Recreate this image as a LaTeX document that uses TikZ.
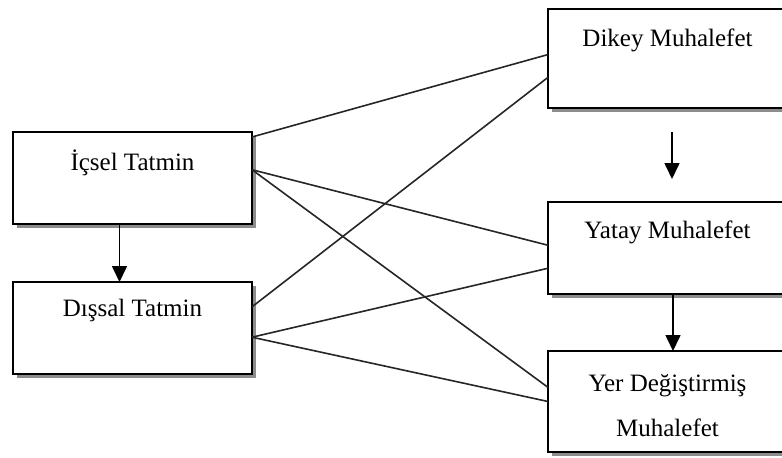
\documentclass[tikz,border=0pt]{standalone}
\usepackage{fontspec}
\setmainfont{Liberation Serif}
\usetikzlibrary{positioning,calc,shadows,arrows.meta}

\tikzset{
  box/.style={draw, line width=1pt, fill=white, minimum width=119.5pt,
    inner sep=0pt, outer sep=0pt,
    drop shadow={shadow xshift=2pt, shadow yshift=-2pt, fill=black!45, opacity=1}},
  lbl/.style={font=\fontsize{12.5}{22.5}\selectfont, align=center, inner sep=0pt},
  link/.style={line width=0.8pt, black!85},
  flow/.style={line width=0.8pt, -{Triangle[length=8pt, width=7.5pt]}},
}

\begin{document}
\begin{tikzpicture}[x=0.5pt, y=-0.5pt]
  \useasboundingbox (0,0) rectangle (782,457);

  % left column
  \node[box, minimum height=46pt] (ic) at (132.5,178) {};
  \node[box, minimum height=46pt, below=29pt of ic] (dis) {};
  \node[lbl] (icT) at ($(ic.north)+(0,31)$) {İçsel Tatmin};
  \node[lbl] (disT) at ($(dis.north)+(0,28)$) {Dışsal Tatmin};

  % right column
  \node[box, minimum height=49.5pt] (dikey) at (667.5,58.5) {};
  \node[box, minimum height=46pt] (yatay) at (667.5,248) {};
  \node[box, minimum height=50.5pt] (yer) at (667.5,401.5) {};
  \node[lbl] (dikeyT) at ($(dikey.north)+(0,31)$) {Dikey Muhalefet};
  \node[lbl] (yatayT) at ($(yatay.north)+(0,30)$) {Yatay Muhalefet};
  \node[lbl] (yerT) at ($(yer.north)+(0,54.5)$) {Yer Değiştirmiş\\Muhalefet};

  % arrows
  \draw[flow] ($(ic.south)+(-13,0)$) -- ($(dis.north)+(-13,0)$);
  \coordinate (dA) at ($(dikey.south)+(4.5,24)$);
  \coordinate (dB) at ($(dikey.south)+(4.5,71)$);
  \draw[flow] (dA) -- (dB);
  \draw[flow] ($(yatay.south)+(5.5,0)$) -- ($(yer.north)+(5.5,0)$);

  % links
  \draw[link] ($(ic.north east)!0.054!(ic.south east)$) -- ($(dikey.north west)!0.46!(dikey.south west)$);
  \draw[link] ($(ic.north east)!0.41!(ic.south east)$) -- ($(yatay.north west)!0.47!(yatay.south west)$);
  \draw[link] ($(ic.north east)!0.41!(ic.south east)$) -- ($(yer.north west)!0.36!(yer.south west)$);
  \draw[link] ($(dis.north east)!0.27!(dis.south east)$) -- ($(dikey.north west)!0.69!(dikey.south west)$);
  \draw[link] ($(dis.north east)!0.6!(dis.south east)$) -- ($(yatay.north west)!0.72!(yatay.south west)$);
  \draw[link] ($(dis.north east)!0.6!(dis.south east)$) -- ($(yer.north west)!0.5!(yer.south west)$);
\end{tikzpicture}
\end{document}
